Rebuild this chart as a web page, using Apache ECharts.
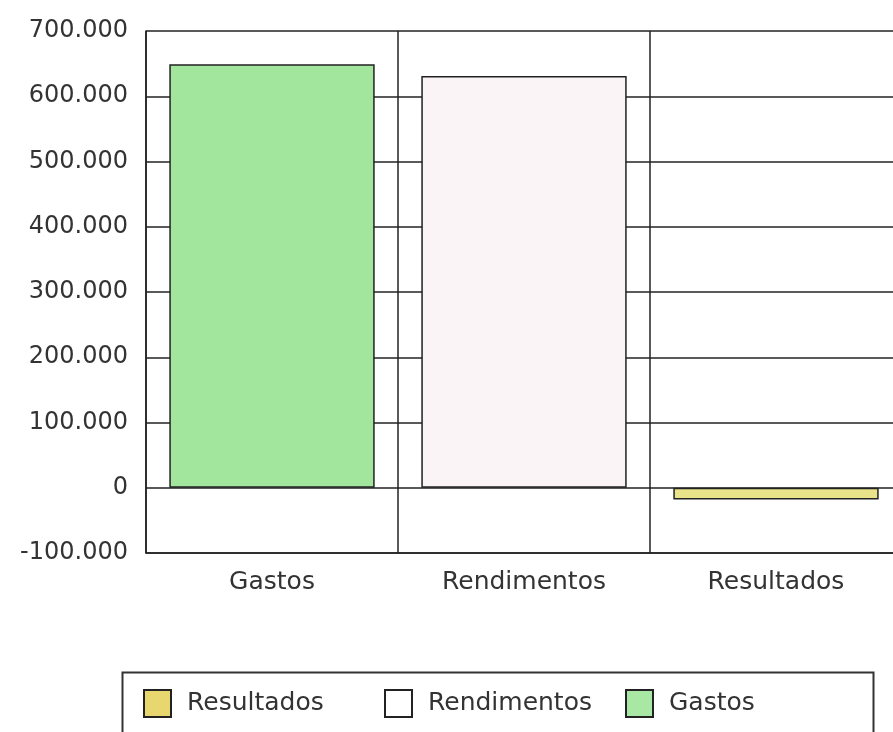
<!DOCTYPE html>
<html>
<head>
<meta charset="utf-8">
<title>Gastos, Rendimentos e Resultados</title>
<script src="https://cdn.jsdelivr.net/npm/echarts@6/dist/echarts.min.js"></script>
<style>
  html, body { margin: 0; padding: 0; background: #ffffff; overflow: hidden; }
  /* the drawing is a bit wider than the window: its right edge is cut off */
  #chart { width: 910px; height: 732px; }
</style>
</head>
<body>
<div id="chart"></div>
<script>
// Categories and values (euros)
const categories = ['Gastos', 'Rendimentos', 'Resultados'];
const gastos = [649000, '-', '-'];
const rendimentos = ['-', 631000, '-'];
const resultados = ['-', '-', -18000];

// Value axis range and step
const yMin = -100000;
const yMax = 700000;
const yStep = 100000;

// Legend order as printed under the chart
const legendOrder = ['Resultados', 'Rendimentos', 'Gastos'];

const colors = {
  Gastos: '#a2e69e',
  Rendimentos: '#faf4f7',
  Resultados: '#e9e38a'
};
const legendColors = {
  Gastos: '#a8e8a4',
  Rendimentos: '#ffffff',
  Resultados: '#e8d66e'
};

const textColor = '#333333';
const lineColor = '#222222';
const fontFamily = '"DejaVu Sans", sans-serif';

// Thousands separated with a dot: 700000 -> "700.000"
function fmt(v) {
  const s = String(Math.abs(v)).replace(/\B(?=(\d{3})+(?!\d))/g, '.');
  return (v < 0 ? '-' : '') + s;
}

function barSeries(name, data) {
  return {
    name: name,
    type: 'bar',
    stack: 'all',
    data: data,
    barWidth: '81.5%',
    itemStyle: {
      color: colors[name],
      borderColor: lineColor,
      borderWidth: 1.5
    },
    emphasis: { disabled: true }
  };
}

const legendLefts = [143, 384, 625];

const chart = echarts.init(document.getElementById('chart'), null, { renderer: 'canvas' });

chart.setOption({
  animation: false,
  backgroundColor: '#ffffff',
  grid: { left: 146, width: 756, top: 31, height: 522, containLabel: false },
  xAxis: {
    type: 'category',
    data: categories,
    axisLine: { onZero: false, lineStyle: { color: lineColor, width: 1.5 } },
    axisTick: { show: false },
    splitLine: { show: true, interval: 0, lineStyle: { color: lineColor, width: 1.5 } },
    axisLabel: {
      interval: 0,
      margin: 17,
      color: textColor,
      fontFamily: fontFamily,
      fontSize: 25
    }
  },
  yAxis: {
    type: 'value',
    min: yMin,
    max: yMax,
    interval: yStep,
    axisLine: { show: true, lineStyle: { color: lineColor, width: 1.5 } },
    axisTick: { show: false },
    splitLine: { show: true, lineStyle: { color: lineColor, width: 1.5 } },
    axisLabel: {
      margin: 18,
      color: textColor,
      fontFamily: fontFamily,
      fontSize: 24,
      formatter: fmt
    }
  },
  legend: legendOrder.map(function (name, i) {
    return {
      data: [{ name: name, itemStyle: { color: legendColors[name], borderColor: lineColor, borderWidth: 2 } }],
      left: legendLefts[i],
      top: 689,
      padding: 0,
      icon: 'rect',
      itemWidth: 27,
      itemHeight: 27,
      selectedMode: false,
      textStyle: {
        color: textColor,
        fontFamily: fontFamily,
        fontSize: 25,
        padding: [0, 0, 0, 11]
      }
    };
  }),
  graphic: [{
    type: 'rect',
    left: 120,
    top: 670,
    shape: { width: 751, height: 90 },
    style: { fill: 'none', stroke: '#333333', lineWidth: 2 },
    silent: true,
    z: -1
  }],
  series: [
    barSeries('Gastos', gastos),
    barSeries('Rendimentos', rendimentos),
    barSeries('Resultados', resultados)
  ]
});
</script>
</body>
</html>
